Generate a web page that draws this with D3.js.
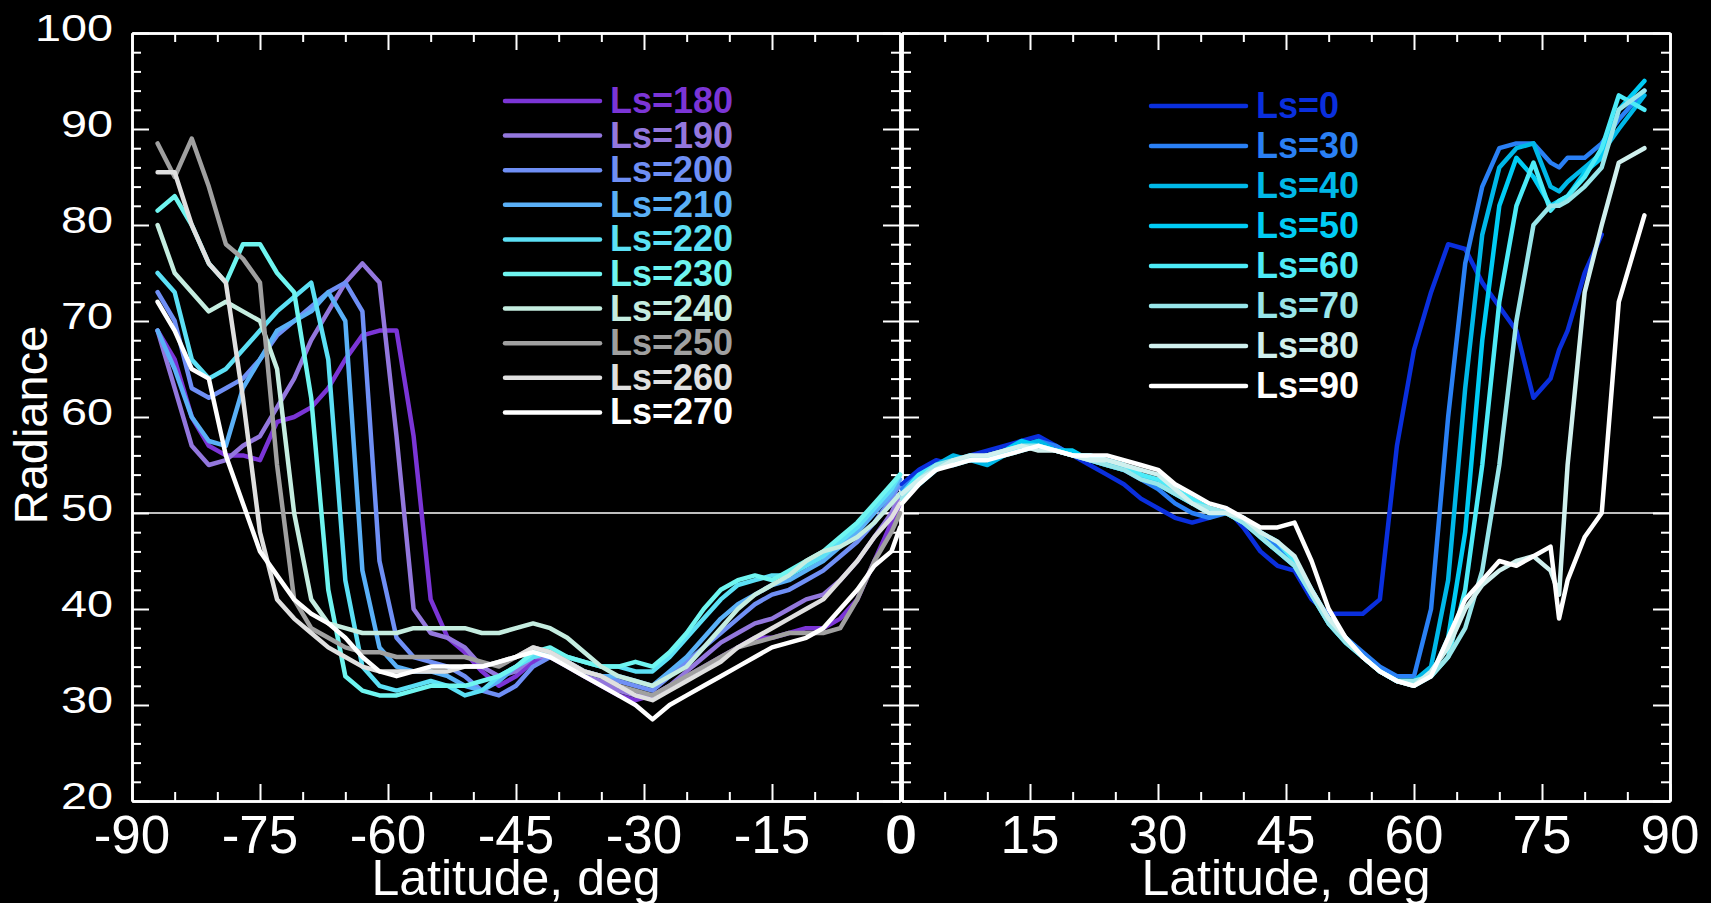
<!DOCTYPE html>
<html>
<head>
<meta charset="utf-8">
<script src="https://cdn.jsdelivr.net/npm/d3@7"></script>
<style>
  html, body { margin: 0; padding: 0; background: #000; }
  svg { display: block; }
</style>
</head>
<body>
<svg width="1711" height="903"></svg>
<script>
// latitude grids
const latSouth = [-87, -85, -83, -81, -79, -77, -75, -73, -71, -69, -67, -65, -63, -61, -59, -57, -55,
  -53, -51, -49, -47, -45, -43, -41, -39, -37, -35, -33, -31, -29, -27, -25, -23, -21, -19, -17, -15,
  -13, -11, -9, -7, -5, -3, -1, 0];
const latNorth = [0, 2, 4, 6, 8, 10, 12, 14, 16, 18, 20, 22, 24, 26, 28, 30, 32, 34, 36, 38, 40, 42, 44,
  46, 48, 50, 52, 54, 56, 58, 60, 62, 64, 66, 68, 70, 72, 74, 76, 77, 78, 80, 82, 84, 87];

const southNames = ['Ls=180', 'Ls=190', 'Ls=200', 'Ls=210', 'Ls=220', 'Ls=230', 'Ls=240', 'Ls=250', 'Ls=260', 'Ls=270'];
const northNames = ['Ls=0', 'Ls=30', 'Ls=40', 'Ls=50', 'Ls=60', 'Ls=70', 'Ls=80', 'Ls=90'];

const southColors = ['#7b35d6', '#9377dd', '#6f8ff5', '#5ab0f7', '#5ce0f5', '#6ff5f0', '#c5ede0', '#a0a0a0', '#e0e0e0', '#ffffff'];
const northColors = ['#0a2fdd', '#2a80f5', '#00b8e8', '#00ccf5', '#4debf8', '#98e6ea', '#d0f0ee', '#ffffff'];

const ls180 = [69, 66, 60, 57, 56, 56, 55.5, 59.5, 60, 61, 63, 66, 68.5, 69, 69, 58, 41,
  37, 35.5, 33.5, 32, 33, 34.5, 35, 34.5, 33, 32, 31, 30.5, 31, 32, 33, 34, 35, 36, 37, 37, 37.5, 38, 38, 39, 41, 45, 49, 51];
const ls190 = [69, 63, 57, 55, 55.5, 57, 58, 61, 64, 68, 71, 74, 76, 74, 58, 40, 37.5,
  37, 36, 34, 33, 33.5, 35, 35, 34, 33, 32.5, 31.5, 31, 31, 32, 33.5, 35, 36.5, 37.5, 38.5, 39, 40, 41, 41.5, 43, 45, 47.5, 50, 52];
const ls200 = [73, 70, 63, 62, 63, 64, 66, 68.5, 70, 71.5, 73, 74, 71, 45, 37, 35, 34.5,
  34, 33, 31.5, 31, 32, 34, 35, 34.5, 33.5, 33, 32.5, 32, 31.5, 33, 34.5, 36, 37.5, 39, 40.5, 41.5, 42, 43, 44, 45.5, 47, 49, 51.5, 53];
const ls210 = [69, 65, 60, 57.5, 57, 63, 66, 69, 70, 71, 73, 70, 44, 36, 34, 33.5, 33.5,
  33, 32, 31.5, 32.5, 34, 35, 35.5, 34.5, 33.5, 33, 33, 32.5, 32, 33.5, 35, 37, 39, 40.5, 41.5, 42.5, 43, 44, 45, 46.5, 48, 50, 52, 53.5];
const ls220 = [75, 73, 66, 64, 65, 67, 69, 71, 72.5, 74, 66, 43, 34, 32, 31.5, 32, 32.5,
  32, 31, 31.5, 33, 34, 35, 35.5, 35, 34.5, 34, 34, 33.5, 33.5, 35, 37, 39, 41, 42.5, 43, 43.5, 43.5, 44.5, 45.5, 47, 48.5, 50.5, 52.5, 54];
const ls230 = [81.5, 83, 80, 76, 74, 78, 78, 75, 73, 62, 42, 33, 31.5, 31, 31, 31.5, 32,
  32, 32, 32.5, 33, 34, 35.5, 36, 35, 34.5, 34, 34, 34.5, 34, 35.5, 37.5, 40, 42, 43, 43.5, 43, 44, 45, 46, 47.5, 49, 51, 53, 54];
const ls240 = [80, 75, 73, 71, 72, 71, 70, 65, 50, 41, 38.5, 38, 37.5, 37.5, 37.5, 38, 38,
  38, 38, 37.5, 37.5, 38, 38.5, 38, 37, 35.5, 34, 33, 32.5, 32, 33, 34, 36, 38, 40, 41.5, 42.5, 43.5, 45, 46, 46.5, 47.5, 49, 51, 52];
const ls250 = [88.5, 85, 89, 84, 78, 76.5, 74, 55, 41, 38, 37, 36, 35.5, 35.5, 35, 35, 35,
  35, 35, 34.5, 34, 35, 36, 35.5, 34.5, 33.5, 33, 32, 31.5, 31, 32, 33, 34, 35, 36, 36.5, 37, 37.5, 37.5, 37.5, 38, 41, 45, 48, 50];
const ls260 = [85.5, 85.5, 80, 76, 74, 62, 48, 41, 39, 37.5, 36, 35, 34, 33.5, 33.5, 33.5, 33.5,
  33.5, 34, 34, 34.5, 35, 36, 35.5, 34.5, 33.5, 33, 32, 31, 30.5, 31.5, 32.5, 33.5, 34.5, 36, 37, 38, 39, 40, 41, 43, 45, 47.5, 49.5, 51];
const ls270 = [72, 69, 65, 64, 56, 51, 46, 43.5, 41, 39.5, 38.5, 37, 35, 33.5, 33, 33.5, 34,
  34, 34, 34, 34.5, 35, 35.5, 35, 34, 33, 32, 31, 30, 28.5, 30, 31, 32, 33, 34, 35, 36, 36.5, 37, 38, 40, 42, 44.5, 46, 48.5];

const ls0 = [53, 54.5, 55.5, 55, 56, 56.5, 57, 57.5, 58, 57, 56, 55, 54, 53, 51.5, 50.5, 49.5, 49, 49.5, 50.5, 48.5, 46, 44.5,
  44, 41, 39.5, 39.5, 39.5, 41, 57, 67, 73, 78, 77.5, 74, 71.5, 69, 62, 64, 67, 69, 75, 79, null, null];
const ls30 = [52.5, 54, 55, 55.5, 55.5, 56, 56.5, 57, 57.5, 57, 56, 55.5, 55, 54.5, 53.5, 52.5, 51, 50, 49.5, 50, 49.5, 48, 46.5,
  45, 42, 39, 37, 35.5, 34, 33, 33, 40, 60, 76, 84, 88, 88.5, 88.5, 86.5, 86, 87, 87, 88.5, 91, 94];
const ls40 = [52, 53.5, 55, 56, 55.5, 55, 56, 57, 57.5, 56.5, 56, 56, 55.5, 55, 54, 53, 52, 51, 50.5, 50, 49, 47.5, 46,
  44.5, 41.5, 38.5, 36.5, 35, 33.5, 32.5, 32.5, 34, 43, 63, 79, 86, 88, 88.5, 84, 83.5, 84.5, 86, 87.5, 90, 93.5];
const ls50 = [51.5, 53, 54.5, 55.5, 56, 55.5, 56.5, 57.5, 57, 56.5, 56.5, 55.5, 55, 54.5, 54, 53, 52, 51, 50, 50, 49.5, 47.5, 46,
  44.5, 41.5, 38.5, 36.5, 35, 33.5, 32.5, 32.5, 33, 37, 48, 68, 82, 87, 85, 82, 82.5, 83, 85.5, 87, 92, 95];
const ls60 = [52, 54, 55, 55, 55.5, 56, 56, 56.5, 57, 56.5, 56, 56, 55.5, 55, 54, 53.5, 52.5, 51.5, 50.5, 50, 49, 48, 47,
  45, 42, 39, 37, 35, 33.5, 32.5, 32, 33, 35, 42, 55, 72, 82, 86.5, 81.5, 82.5, 83, 85, 88, 93.5, 92];
const ls70 = [51.5, 53.5, 55, 55.5, 55.5, 56, 56.5, 57, 57, 56.5, 56, 55.5, 55, 54.5, 53.5, 53, 52, 51, 50.5, 50, 49, 47.5, 46,
  44.5, 41.5, 38.5, 36.5, 35, 33.5, 32.5, 32.5, 33, 35, 38, 44, 55, 70, 80, 82, 82, 82.5, 84, 86, 92, 94];
const ls80 = [52, 53.5, 54.5, 55.5, 56, 56, 56.5, 57, 56.5, 56.5, 56, 55.5, 55.5, 55, 54.5, 54, 52.5, 51, 50, 50, 49.5, 48, 47,
  45.5, 42, 39, 37, 35, 33.5, 32.5, 32, 33.5, 36, 40, 42.5, 44, 45, 45.5, 44, 41.5, 55, 73, 80, 86.5, 88];
const ls90 = [51, 53, 54.5, 55, 55.5, 55.5, 56, 56.5, 57, 56.5, 56, 56, 56, 55.5, 55, 54.5, 53, 52, 51, 50.5, 49.5, 48.5, 48.5,
  49, 45, 40, 37, 35, 33.5, 32.5, 32, 33, 37, 41, 43, 45, 44.5, 45.5, 46.5, 39, 43, 47.5, 50, 72, 81];

const southSeries = [ls180, ls190, ls200, ls210, ls220, ls230, ls240, ls250, ls260, ls270];
const northSeries = [ls0, ls30, ls40, ls50, ls60, ls70, ls80, ls90];

const xTicksSouth = [-90, -75, -60, -45, -30, -15, 0];
const xTicksNorth = [0, 15, 30, 45, 60, 75, 90];
const yTicks = [20, 30, 40, 50, 60, 70, 80, 90, 100];

const svg = d3.select('svg');
const font = '"Liberation Sans", Arial, Helvetica, sans-serif';

svg.append('rect').attr('width', 1711).attr('height', 903).attr('fill', '#000');

const y = d3.scaleLinear().domain([20, 100]).range([801, 33]);
const xS = d3.scaleLinear().domain([-90, 0]).range([132, 900]);
const xN = d3.scaleLinear().domain([0, 90]).range([902, 1670]);

function frame(x, lo, hi) {
  const g = svg.append('g');
  const xMajor = d3.range(lo, hi + 1, 15);
  const xMinor = d3.range(lo, hi + 1, 5).filter(d => d % 15 !== 0);
  const yMajor = yTicks;
  const yMinor = d3.range(20, 101, 2).filter(d => d % 10 !== 0);

  const axes = [
    [d3.axisBottom, `translate(0,${y(20)})`, x, xMajor, xMinor],
    [d3.axisTop, `translate(0,${y(100)})`, x, xMajor, xMinor],
    [d3.axisLeft, `translate(${x(lo)},0)`, y, yMajor, yMinor],
    [d3.axisRight, `translate(${x(hi)},0)`, y, yMajor, yMinor]
  ];
  axes.forEach(([axis, tr, sc, major, minor]) => {
    g.append('g').attr('transform', tr)
      .call(axis(sc).tickValues(major).tickSize(-17).tickSizeOuter(0).tickFormat(''));
    g.append('g').attr('transform', tr)
      .call(axis(sc).tickValues(minor).tickSize(-9).tickSizeOuter(0).tickFormat(''));
  });
  g.selectAll('path.domain').attr('stroke', '#fff').attr('stroke-width', 2.5);
  g.selectAll('.tick line').attr('stroke', '#fff').attr('stroke-width', 2);
}

frame(xS, -90, 0);
frame(xN, 0, 90);

// 50 reference line
svg.append('line')
  .attr('x1', xS(-90)).attr('x2', xN(90))
  .attr('y1', y(50)).attr('y2', y(50))
  .attr('stroke', '#fff').attr('stroke-width', 1.6);

// y tick labels (stretched wide like the original)
svg.append('g').selectAll('text').data(yTicks).join('text')
  .attr('transform', d => `translate(113,${y(d) + 8}) scale(1.3,1)`)
  .attr('text-anchor', 'end')
  .attr('font-family', font).attr('font-size', 36).attr('fill', '#fff')
  .text(d => d);

// x tick labels
[[xS, xTicksSouth], [xN, xTicksNorth]].forEach(([sc, ticks]) => {
  svg.append('g').selectAll('text').data(ticks).join('text')
    .attr('x', d => sc(d)).attr('y', 853)
    .attr('text-anchor', 'middle')
    .attr('font-family', font).attr('font-size', 53).attr('fill', '#fff')
    .text(d => d);
});

// axis titles
[xS, xN].forEach(sc => {
  svg.append('text')
    .attr('x', (sc.range()[0] + sc.range()[1]) / 2).attr('y', 895)
    .attr('text-anchor', 'middle')
    .attr('font-family', font).attr('font-size', 50).attr('fill', '#fff')
    .text('Latitude, deg');
});

svg.append('text')
  .attr('transform', `translate(47,${y(60) + 8}) rotate(-90)`)
  .attr('text-anchor', 'middle')
  .attr('font-family', font).attr('font-size', 47).attr('fill', '#fff')
  .text('Radiance');

// curves
function curves(sc, lats, series, colors) {
  const line = d3.line()
    .defined(v => v != null)
    .x((v, i) => sc(lats[i]))
    .y(v => y(v));
  svg.append('g').selectAll('path').data(series).join('path')
    .attr('d', line)
    .attr('fill', 'none')
    .attr('stroke', (d, i) => colors[i])
    .attr('stroke-width', 4.5)
    .attr('stroke-linejoin', 'round')
    .attr('stroke-linecap', 'round');
}

curves(xS, latSouth, southSeries, southColors);
curves(xN, latNorth, northSeries, northColors);

// legends
function legend(names, colors, x0, y0, step) {
  const g = svg.append('g');
  const row = g.selectAll('g').data(names).join('g')
    .attr('transform', (d, i) => `translate(${x0},${y0 + i * step})`);
  row.append('line')
    .attr('x1', 0).attr('x2', 95)
    .attr('stroke', (d, i) => colors[i])
    .attr('stroke-width', 4.5)
    .attr('stroke-linecap', 'round');
  row.append('text')
    .attr('x', 105).attr('y', 12)
    .attr('font-family', font).attr('font-size', 36).attr('font-weight', 'bold')
    .attr('fill', (d, i) => colors[i])
    .text(d => d);
}

legend(southNames, southColors, 505, 101, 34.6);
legend(northNames, northColors, 1151, 106, 40);
</script>
</body>
</html>
